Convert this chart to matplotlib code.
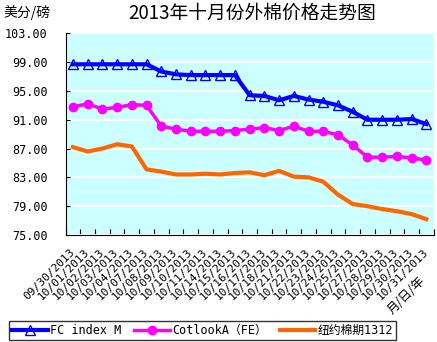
import matplotlib
matplotlib.use("Agg")
import matplotlib.pyplot as plt
import numpy as np

# 数据
datas = ["09/30/2013", "10/01/2013", "10/02/2013", "10/03/2013", "10/04/2013",
         "10/07/2013", "10/08/2013", "10/09/2013", "10/10/2013", "10/11/2013",
         "10/14/2013", "10/15/2013", "10/16/2013", "10/17/2013", "10/18/2013",
         "10/21/2013", "10/22/2013", "10/23/2013", "10/24/2013", "10/25/2013",
         "10/27/2013", "10/28/2013", "10/29/2013", "10/30/2013", "10/31/2013"]

fc_index = [98.7, 98.7, 98.7, 98.7, 98.7, 98.7, 97.7, 97.3, 97.2, 97.2,
            97.2, 97.2, 94.4, 94.3, 93.7, 94.3, 93.8, 93.5, 93.0, 92.1,
            91.0, 91.0, 91.0, 91.1, 90.4]

cotlook = [92.8, 93.2, 92.5, 92.7, 93.1, 93.0, 90.1, 89.7, 89.4, 89.4,
           89.4, 89.5, 89.7, 89.9, 89.5, 90.1, 89.4, 89.4, 88.9, 87.5,
           85.8, 85.8, 85.9, 85.7, 85.4]

nyfut = [87.2, 86.6, 87.0, 87.6, 87.3, 84.1, 83.8, 83.4, 83.4, 83.5,
         83.4, 83.6, 83.7, 83.3, 83.9, 83.1, 83.0, 82.4, 80.6, 79.3,
         79.0, 78.6, 78.3, 77.9, 77.2]

yticks = [75, 79, 83, 87, 91, 95, 99, 103]

mono = ["DejaVu Sans Mono", "Noto Sans CJK SC"]
cjk = ["Noto Sans CJK SC", "DejaVu Sans"]

fig = plt.figure(figsize=(4.37, 3.42), dpi=100)
ax = fig.add_axes([0.150, 0.3129, 0.8425, 0.5897])
ax.set_facecolor("#CCFFFF")

x = np.arange(len(datas))
ax.plot(x, fc_index, color="#0000FF", lw=3, marker="^", ms=6.5,
        mfc="none", mec="#0000FF", mew=1.0, label="FC index M", zorder=4)
ax.plot(x, cotlook, color="#FF00FF", lw=2.5, marker="o", ms=6,
        mfc="#FF00FF", mec="#FF00FF", label="CotlookA（FE）", zorder=3)
ax.plot(x, nyfut, color="#FF6600", lw=3, label="纽约棉期1312", zorder=2)

ax.set_xlim(-0.5, len(datas) - 0.5)
ax.set_ylim(75, 103)
ax.set_yticks(yticks)
ax.set_yticklabels(["%.2f" % v for v in yticks], family=mono, fontsize=8.5)
ax.yaxis.grid(True, color="white", lw=1.5)
ax.set_axisbelow(True)

ax.set_xticks(np.arange(len(datas) + 1) - 0.5, minor=False)
ax.set_xticklabels([])
ax.set_xticks(x, minor=True)
ax.set_xticklabels(datas, minor=True, rotation=45, ha="right", va="center",
                   rotation_mode="anchor", family=mono, fontsize=8)
ax.tick_params(axis="x", which="minor", length=0, pad=11)
ax.tick_params(axis="x", which="major", direction="in", length=4)
ax.tick_params(axis="y", direction="in", length=3, pad=13)

for s in ["top", "right"]:
    ax.spines[s].set_visible(False)

fig.text(0.577, 0.962, "2013年十月份外棉价格走势图", family=cjk, fontsize=13.5,
         ha="center", va="center")
fig.text(0.007, 0.962, "美分/磅", family=cjk, fontsize=10, ha="left", va="center")
fig.text(0.93, 0.137, "月/日/年", family=cjk, fontsize=9, rotation=45,
         ha="center", va="center")

leg = fig.legend(loc="lower left", bbox_to_anchor=(0.021, 0.006), ncol=3,
                 prop={"family": mono, "size": 8.5}, frameon=True, fancybox=False,
                 edgecolor="black", handlelength=3.0, columnspacing=1.1,
                 handletextpad=0.2, borderpad=0.25, borderaxespad=0)
leg.get_frame().set_linewidth(1.0)

fig.savefig("out.png", dpi=100)
